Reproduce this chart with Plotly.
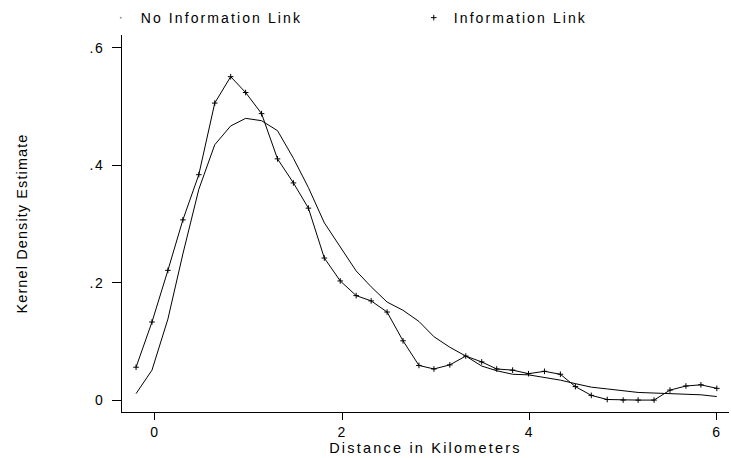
import plotly.graph_objects as go

# Distance grid (km)
distance_km = [-0.20, -0.03, 0.14, 0.30, 0.47, 0.64, 0.81, 0.97, 1.14, 1.31,
               1.48, 1.64, 1.81, 1.98, 2.15, 2.31, 2.48, 2.65, 2.82, 2.98,
               3.15, 3.32, 3.49, 3.65, 3.82, 3.99, 4.16, 4.33, 4.49, 4.66,
               4.83, 5.00, 5.16, 5.33, 5.50, 5.67, 5.83, 6.00]

# Kernel density, "No Information Link"
no_info_density = [0.011, 0.051, 0.138, 0.249, 0.359, 0.435, 0.467, 0.480, 0.476, 0.459,
                   0.412, 0.362, 0.302, 0.260, 0.220, 0.193, 0.167, 0.153, 0.134, 0.108,
                   0.090, 0.075, 0.058, 0.050, 0.044, 0.043, 0.039, 0.034, 0.028, 0.022,
                   0.019, 0.016, 0.013, 0.012, 0.011, 0.010, 0.009, 0.006]

# Kernel density, "Information Link"
info_density = [0.056, 0.133, 0.221, 0.307, 0.384, 0.506, 0.551, 0.524, 0.488, 0.411,
                0.370, 0.327, 0.242, 0.203, 0.178, 0.169, 0.150, 0.101, 0.059, 0.053,
                0.060, 0.075, 0.065, 0.053, 0.051, 0.045, 0.049, 0.044, 0.023, 0.008,
                0.001, 0.000, 0.000, 0.000, 0.017, 0.024, 0.026, 0.020]

series_names = ["No Information Link", "Information Link"]
x_tick_vals = [0, 2, 4, 6]
x_tick_text = ["0", "2", "4", "6"]
y_tick_vals = [0, 0.2, 0.4, 0.6]
y_tick_text = ["0", ".2", ".4", ".6"]
x_title = "Distance in Kilometers"
y_title = "Kernel Density Estimate"

FONT = "Liberation Sans, Arial, Helvetica, sans-serif"


def spaced(s, px):
    return '<span style="letter-spacing:%spx">%s</span>' % (px, s)


fig = go.Figure()

# data traces
fig.add_trace(go.Scatter(
    x=distance_km, y=no_info_density, mode="lines",
    line=dict(color="black", width=1), showlegend=False, hoverinfo="skip"))
fig.add_trace(go.Scatter(
    x=distance_km, y=info_density, mode="lines+markers",
    line=dict(color="black", width=1),
    marker=dict(symbol="cross-thin", size=4, color="black",
                line=dict(color="black", width=1)),
    showlegend=False, hoverinfo="skip"))

# legend entries
fig.add_trace(go.Scatter(
    x=[None], y=[None], mode="markers", name=spaced(series_names[0], 2.1),
    marker=dict(symbol="circle", size=2, color="#999999")))
fig.add_trace(go.Scatter(
    x=[None], y=[None], mode="markers", name=spaced(series_names[1], 2.1),
    marker=dict(symbol="cross-thin", size=4, color="black",
                line=dict(color="black", width=1))))

fig.update_layout(
    width=731, height=458,
    margin=dict(l=122, r=2, t=33, b=46),
    paper_bgcolor="white", plot_bgcolor="white",
    font=dict(family=FONT, size=14, color="black"),
    showlegend=True,
    legend=dict(orientation="h", x=-0.035, xanchor="left",
                y=1.045, yanchor="middle",
                entrywidth=268, entrywidthmode="pixels",
                font=dict(family=FONT, size=14, color="black"),
                bgcolor="rgba(0,0,0,0)", borderwidth=0),
    xaxis=dict(range=[-0.35, 6.13], showgrid=False, zeroline=False,
               showline=True, linecolor="black", linewidth=1,
               ticks="outside", ticklen=7, tickwidth=1, tickcolor="black",
               tickvals=x_tick_vals,
               ticktext=[spaced(t, 1.5) for t in x_tick_text],
               tickfont=dict(family=FONT, size=14, color="black"),
               title=dict(text=spaced(x_title, 2.2), standoff=0,
                          font=dict(family=FONT, size=14.5, color="black"))),
    yaxis=dict(range=[-0.0203, 0.622], showgrid=False, zeroline=False,
               showline=True, linecolor="black", linewidth=1,
               ticks="outside", ticklen=9, tickwidth=1, tickcolor="black",
               tickvals=y_tick_vals,
               ticktext=[spaced(t, 1.5) for t in y_tick_text],
               ticklabelstandoff=5,
               tickfont=dict(family=FONT, size=14, color="black"),
               title=dict(text=spaced(y_title, 1.1), standoff=58,
                          font=dict(family=FONT, size=14.5, color="black"))),
)

fig.write_html("out.html", config={"displayModeBar": False},
               post_script="document.body.style.margin='0';")
